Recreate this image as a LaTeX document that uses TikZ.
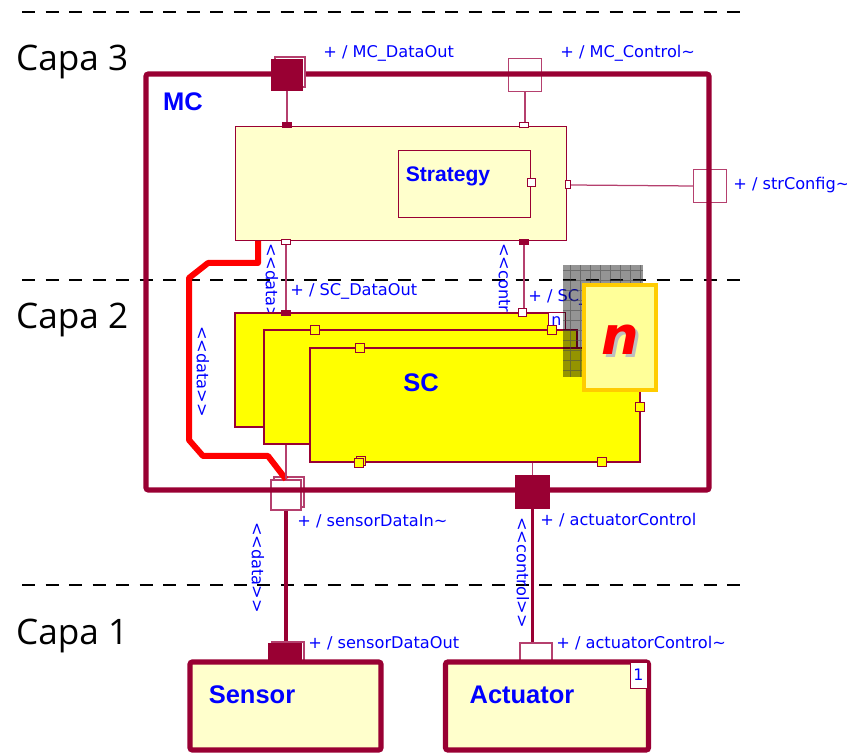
\documentclass[tikz,border=0pt]{standalone}
\usepackage{fontspec}
\setmainfont{Liberation Sans}
\newfontfamily\labelfont{DejaVu Sans}
\newfontfamily\capafont{Open Sans}
\usetikzlibrary{positioning, calc, shadows}

\definecolor{wine}{HTML}{990033}
\definecolor{wireline}{HTML}{B5406E}
\definecolor{paleyellow}{HTML}{FFFFCC}
\definecolor{scyellow}{HTML}{FFFF00}
\definecolor{umlblue}{HTML}{0000FF}
\definecolor{noteedge}{HTML}{FFCC00}
\definecolor{notefill}{HTML}{FFFF99}

\begin{document}
\begin{tikzpicture}[x=0.2mm, y=-0.2mm,
        layerline/.style={line width=0.55mm, dash pattern=on 2.6mm off 2.1mm},
        capa/.style={anchor=west, font=\capafont\fontsize{20}{20}\selectfont},
        part/.style={rectangle, draw=wine, line width=1.05mm, fill=paleyellow, rounded corners=0.5mm, inner sep=0pt},
        innerbox/.style={rectangle, draw=wine, line width=0.2mm, fill=paleyellow, inner sep=0pt},
        scbox/.style={rectangle, draw=wine, line width=0.25mm, fill=scyellow, inner sep=0pt},
        bigname/.style={text=umlblue, font=\bfseries\fontsize{14.5}{15}\selectfont},
        lbl/.style={anchor=west, text=umlblue, inner sep=0pt, font=\labelfont\fontsize{9.2}{10}\selectfont},
        stereo/.style={lbl, rotate=-90},
        port/.style={rectangle, draw=wireline, line width=0.25mm, fill=white, minimum size=6.6mm, inner sep=0pt},
        portfill/.style={port, draw=wine, fill=wine},
        portshadow/.style={copy shadow={shadow xshift=0.6mm, shadow yshift=0.6mm, fill=white, draw=wireline}},
        stub/.style={rectangle, draw=wine, line width=0.2mm, fill=white, minimum width=1.7mm, minimum height=1.1mm, inner sep=0pt},
        stubfill/.style={stub, fill=wine},
        ypin/.style={rectangle, draw=wine, line width=0.25mm, fill=scyellow, minimum size=1.7mm, inner sep=0pt},
        wire/.style={draw=wireline, line width=0.25mm},
        link/.style={draw=wine, line width=0.7mm},
        redlink/.style={draw=red, line width=1.2mm, line join=round}
    ]
        \useasboundingbox (0,0) rectangle (847,755);

        % layer separators
        \foreach \ly in {12, 280, 585} {
            \draw[layerline] (22,\ly) -- (745,\ly);
        }
        \node[capa] (capa3) at (10,62) {Capa 3};
        \node[capa] (capa2) at (10,320) {Capa 2};
        \node[capa] (capa1) at (10,636) {Capa 1};

        % MC with its ports
        \node[port] (mcctrl) at (525,75) {};
        \node[port] (strcfg) at (710,186) {};
        \node[port, minimum size=6mm, portshadow] (sensin) at (286,495) {};

        \node[part, fill=none, minimum width=112.6mm, minimum height=83.2mm] (mc) at (427.5,282) {};
        \node[bigname] (mctitle) at (183,102) {MC};

        \node[portfill, minimum size=6mm, portshadow] (mcdata) at (287,75) {};
        \node[portfill] (actctrl) at (532.5,492) {};

        % inner part with Strategy
        \node[innerbox, minimum width=66.2mm, minimum height=22.8mm] (inner) at (400.5,184) {};
        \node[innerbox, minimum width=26.4mm, minimum height=13.4mm] (strategy) at (464,184.5) {};
        \node[bigname, font=\bfseries\fontsize{12}{12}\selectfont] (strtitle) at (448,176) {Strategy};

        \node[stubfill] (intopa) at (287,125) {};
        \node[stub] (intopb) at (524,125) {};
        \node[stub] (inbota) at (286,242) {};
        \node[stubfill] (inbotb) at (524,242) {};
        \node[stub, minimum size=1.6mm] (strpin) at (531,183) {};
        \node[stub, minimum width=1mm, minimum height=1.6mm] (inpin) at (568,185) {};

        \draw[wire] (mcdata.south) -- (intopa.north);
        \draw[wire] (mcctrl.south) -- (mcctrl.south |- intopb.north);
        \draw[wire] (inpin.east) -- (strcfg.west);

        % port labels
        \node[lbl] (lmcdata) at (323,53) {+ / MC\_DataOut};
        \node[lbl] (lmcctrl) at (560,53) {+ / MC\_Control\textasciitilde};
        \node[lbl] (lstrcfg) at (733,185) {+ / strConfig\textasciitilde};
        \node[lbl] (lscdata) at (290,291) {+ / SC\_DataOut};
        \node[lbl] (lscctrl) at (528,297) {+ / SC\_Control\textasciitilde};
        \node[lbl] (lsensin) at (297,521) {+ / sensorDataIn\textasciitilde};
        \node[lbl] (lactctrl) at (540,520) {+ / actuatorControl};
        \node[lbl] (lsensout) at (308,643) {+ / sensorDataOut};
        \node[lbl] (lactout) at (556,643) {+ / actuatorControl\textasciitilde};

        % stereotypes
        \node[stereo] (sdata1) at (272,243) {<<data>>};
        \node[stereo] (sctrl1) at (505,243) {<<control>>};
        \node[stereo] (sdata2) at (203,326) {<<data>>};
        \node[stereo] (sdata3) at (258,522) {<<data>>};
        \node[stereo] (sctrl2) at (523,517) {<<control>>};

        % delegation in red
        \coordinate (redstart) at (258,241);
        \draw[redlink] (redstart) -- (258,263) -- (208,263) -- (189,278) -- (189,440)
            -- (203,456) -- (268,456) -- (sensin.north);

        % SC multi-part
        \node[scbox, minimum width=66mm, minimum height=22.8mm] (sc1) at (400,370) {};
        \node[scbox, minimum width=62.6mm, minimum height=22.8mm] (sc2) at (420.5,387) {};
        \node[scbox, minimum width=66mm, minimum height=22.8mm] (sc3) at (475,405) {};
        \node[bigname] (sctitle) at (421,383) {SC};

        \node[stubfill] (scdata) at (286,313) {};
        \node[stub, minimum size=1.6mm] (scctrl) at (522,313) {};
        \node[rectangle, draw=wine, line width=0.2mm, fill=white, minimum size=3.4mm, inner sep=0pt,
              text=umlblue, font=\labelfont\fontsize{9}{9}\selectfont] (scmult) at (556.5,321.5) {n};

        \node[ypin] (pa) at (315,330) {};
        \node[ypin] (pb) at (360,348) {};
        \node[ypin] (pc) at (552,330) {};
        \node[ypin] (pd) at (640,407) {};
        \node[ypin, copy shadow={shadow xshift=0.4mm, shadow yshift=0.4mm}] (pe) at (359,463) {};
        \node[ypin] (pf) at (602,462) {};

        \draw[wire] (inbota.south) -- (scdata.north);
        \draw[wire] (inbotb.south) -- (scctrl.north -| inbotb.south);
        \draw[wire] (sensin.north |- sc2.south) -- (sensin.north);
        \draw[wire] (actctrl.north |- sc3.south) -- (actctrl.north);

        % shaded multiplicity mark
        \fill[black, opacity=0.42] (563,265) rectangle (643,377);
        \draw[black!70, opacity=0.55, step=2mm, line width=0.15mm] (563,265) grid (643,377);

        \node[rectangle, draw=noteedge, line width=0.8mm, fill=notefill,
              minimum width=14.4mm, minimum height=21mm] (note) at (620,337.5) {};
        \node[font=\labelfont\bfseries\itshape\fontsize{30}{30}\selectfont] (nmark) at (620,341)
            {\makebox[0pt][l]{\hspace{0.7mm}\raisebox{-0.7mm}{\color{black!25}n}}\color{red}n};

        % Capa 1 parts
        \draw[link] (sensin.south) -- (sensin.south |- 0,645);
        \draw[link] (actctrl.south) -- (actctrl.south |- 0,643);
        \node[portfill, minimum size=6.4mm, copy shadow={shadow xshift=0.6mm, shadow yshift=0.4mm, fill=white, draw=wireline}] (sensout) at (285,660) {};
        \node[port, minimum size=6.4mm] (actout) at (536,659) {};
        \node[part, minimum width=38.2mm, minimum height=17.6mm] (sensor) at (285.5,706) {};
        \node[part, minimum width=40.6mm, minimum height=17.6mm] (actuator) at (547,706) {};
        \node[bigname] (senstitle) at (252,695) {Sensor};
        \node[bigname] (acttitle) at (522,695) {Actuator};
        \node[rectangle, draw=wine, line width=0.2mm, fill=white, minimum width=3.4mm, minimum height=5.2mm,
              inner sep=0pt, text=umlblue, font=\labelfont\fontsize{9}{9}\selectfont] (actmult) at (638.5,675) {1};
    \end{tikzpicture}
\end{document}
